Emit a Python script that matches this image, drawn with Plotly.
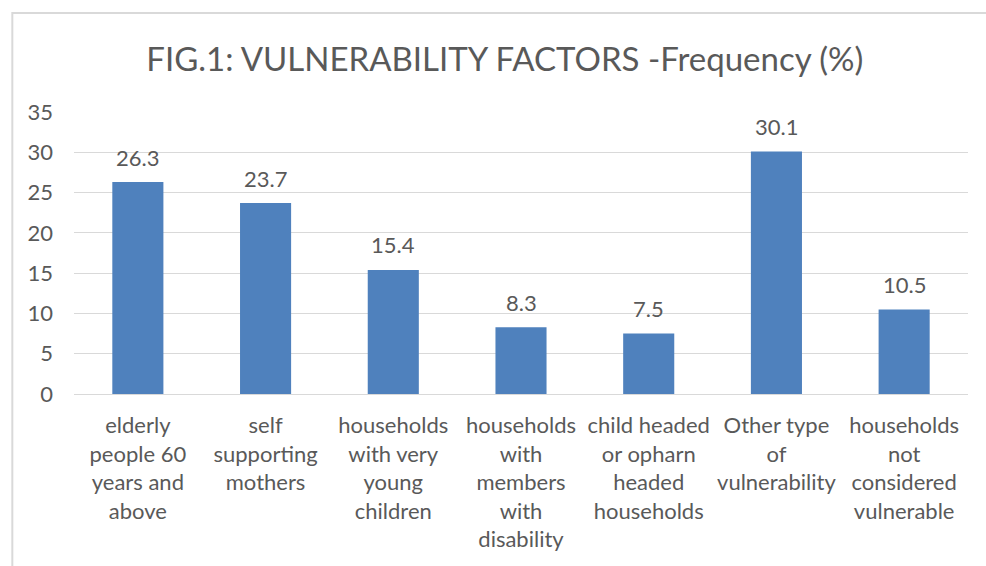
import plotly.graph_objects as go

categories = [
    "elderly<br>people 60<br>years and<br>above",
    "self<br>supporting<br>mothers",
    "households<br>with very<br>young<br>children",
    "households<br>with<br>members<br>with<br>disability",
    "child headed<br>or opharn<br>headed<br>households",
    "Other type<br>of<br>vulnerability",
    "households<br>not<br>considered<br>vulnerable",
]
values = [26.3, 23.7, 15.4, 8.3, 7.5, 30.1, 10.5]
y_ticks = [0, 5, 10, 15, 20, 25, 30, 35]

FONT = "Lato, Open Sans, sans-serif"
GREY = "#595959"
xs = list(range(len(values)))

fig = go.Figure(
    go.Bar(
        x=xs,
        y=values,
        marker=dict(color="#4F81BD", line=dict(width=0)),
        hoverinfo="x+y",
    )
)

annotations = [
    dict(
        x=x,
        y=v,
        xref="x",
        yref="y",
        text=f"{v:.1f}",
        showarrow=False,
        yanchor="middle",
        yshift=25,
        font=dict(family=FONT, size=22, color=GREY),
    )
    for x, v in zip(xs, values)
]

fig.update_layout(
    width=986,
    height=566,
    margin=dict(l=74, r=18, t=112, b=172),
    paper_bgcolor="white",
    plot_bgcolor="white",
    bargap=0.6,
    showlegend=False,
    annotations=annotations,
    title=dict(
        text="FIG.1: VULNERABILITY FACTORS -Frequency (%)",
        x=0.512,
        xanchor="center",
        y=0.895,
        yanchor="middle",
        font=dict(family=FONT, size=33, color=GREY),
    ),
    xaxis=dict(
        tickmode="array",
        tickvals=xs,
        ticktext=categories,
        tickfont=dict(family=FONT, size=22, color=GREY),
        showgrid=False,
        showline=False,
        ticks="",
        ticklabelstandoff=16,
        range=[-0.5, len(values) - 0.5],
        fixedrange=True,
    ),
    yaxis=dict(
        range=[0, 35],
        tickvals=y_ticks,
        tickfont=dict(family=FONT, size=22, color=GREY),
        showgrid=True,
        gridcolor="#d9d9d9",
        gridwidth=1,
        zeroline=True,
        zerolinecolor="#d9d9d9",
        zerolinewidth=1,
        ticks="",
        ticklabelstandoff=20,
        fixedrange=True,
    ),
    shapes=[
        dict(
            type="rect",
            xref="paper",
            yref="paper",
            x0=-0.069,
            x1=1.2,
            y0=-1.0,
            y1=1.351,
            line=dict(color="#d9d9d9", width=2),
            fillcolor="rgba(0,0,0,0)",
            layer="below",
        )
    ],
)

fig.write_html("out.html")
